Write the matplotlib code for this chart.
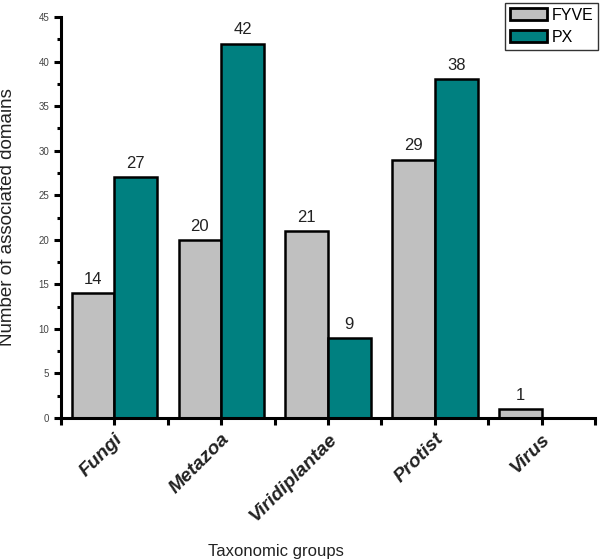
import matplotlib.pyplot as plt
import numpy as np

groups = ['Fungi', 'Metazoa', 'Viridiplantae', 'Protist', 'Virus']
fyve = [14, 20, 21, 29, 1]
px = [27, 42, 9, 38, 0]

plt.rcParams['font.family'] = ['Liberation Sans', 'DejaVu Sans']

fig = plt.figure(figsize=(6, 5.59), dpi=100)
ax = fig.add_axes([0.1017, 0.2522, 0.89, 0.7174])

x = np.arange(len(groups))
w = 0.4
b1 = ax.bar(x - w / 2, fyve, w, color='#c0c0c0', edgecolor='black', linewidth=1.8, label='FYVE')
b2 = ax.bar(x + w / 2, px, w, color='#008080', edgecolor='black', linewidth=1.8, label='PX')

# value labels above bars
for bars, vals in [(b1, fyve), (b2, px)]:
    for rect, v in zip(bars, vals):
        if v == 0:
            continue
        ax.annotate(str(v), (rect.get_x() + rect.get_width() / 2, v), xytext=(0, 4.5),
                    textcoords='offset points', ha='center', va='bottom', fontsize=12, color='#222222')

ax.set_xlim(-0.5, 4.5)
ax.set_ylim(0, 45)
ax.set_xticks(x)
ax.set_xticks(np.arange(-0.5, 4.6, 1), minor=True)
ax.set_yticks(np.arange(0, 46, 5))
ax.set_yticks(np.arange(2.5, 45, 5), minor=True)
ax.set_xticklabels(groups, rotation=45, ha='right', va='top', rotation_mode='anchor',
                   fontsize=14, fontweight='bold', fontstyle='italic', color='#222222')
ax.tick_params(axis='y', which='major', direction='out', length=5, width=2.2, labelsize=7, labelcolor='#444444')
ax.tick_params(axis='y', which='minor', direction='out', length=3, width=2.2)
ax.tick_params(axis='x', which='both', direction='out', length=5, width=2.2, pad=4)

for s in ['top', 'right']:
    ax.spines[s].set_visible(False)
for s in ['left', 'bottom']:
    ax.spines[s].set_linewidth(2.2)

ax.set_ylabel('Number of associated domains', fontsize=13.5, color='#222222')
ax.set_xlabel('Taxonomic groups', fontsize=12, color='#222222')
ax.yaxis.set_label_coords(-0.085, 0.5)
ax.xaxis.set_label_coords(0.403, -0.315)

leg = ax.legend(loc='upper right', bbox_to_anchor=(1.006, 1.035), fontsize=11.5, frameon=True,
                fancybox=False, edgecolor='black', handlelength=2.3, handleheight=0.8,
                borderpad=0.3, labelspacing=0.45, handletextpad=0.3, borderaxespad=0)
leg.get_frame().set_linewidth(1.0)
for h in leg.legend_handles:
    h.set_linewidth(2.0)

fig.savefig('out.png', dpi=100)
